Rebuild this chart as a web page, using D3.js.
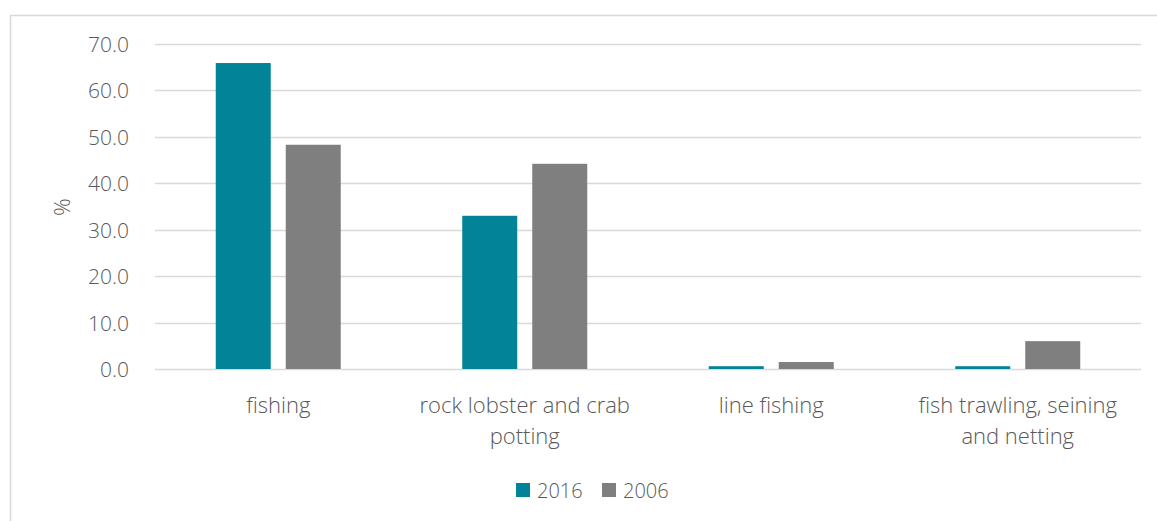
<!DOCTYPE html>
<html><head><meta charset="utf-8">
<script src="https://cdn.jsdelivr.net/npm/d3@7"></script>
<style>
html,body{margin:0;padding:0;background:#fff;}
text{font-family:"Open Sans",sans-serif;fill:#595959;font-weight:300;}
</style></head>
<body>
<svg id="chart" width="1157" height="521"></svg>
<script>
const categories = [["fishing"], ["rock lobster and crab", "potting"], ["line fishing"], ["fish trawling, seining", "and netting"]];
const series = ["2016", "2006"];
const values2016 = [65.9, 33.0, 0.6, 0.6];
const values2006 = [48.3, 44.2, 1.5, 6.0];
const yTicks = [0, 10, 20, 30, 40, 50, 60, 70];
const colors = ["#028398", "#7f7f7f"];

(function(){
const svg = d3.select("#chart");
// outer chart border
svg.append("path").attr("d", "M10.5,521 V15.5 H1157").attr("fill","none").attr("stroke","#d9d9d9").attr("stroke-width",1.5);

const pL = 155, pR = 1141, pT = 44, pB = 369;
const x = d3.scaleBand().domain(d3.range(categories.length)).range([pL, pR]);
const y = d3.scaleLinear().domain([0, 70]).range([pB, pT]);

// gridlines
svg.append("g").selectAll("line").data(yTicks).join("line")
  .attr("x1", pL).attr("x2", pR)
  .attr("y1", d => Math.round(y(d)) + 0.5).attr("y2", d => Math.round(y(d)) + 0.5)
  .attr("stroke", "#d9d9d9").attr("stroke-width", 1.5);

// y axis labels
const yAxis = d3.axisLeft(y).tickValues(yTicks).tickFormat(d3.format(".1f")).tickSize(0).tickPadding(0);
const ya = svg.append("g").attr("transform", `translate(${pL - 26},0)`).call(yAxis);
ya.select(".domain").remove();
ya.selectAll("text").attr("font-size", 21).attr("font-family", "\"Open Sans\",sans-serif").attr("font-weight", 300).attr("fill", "#595959").attr("dy", "0.36em");

// y title
svg.append("text").attr("transform", "translate(70,207) rotate(-90)").attr("text-anchor","middle")
  .attr("font-size", 22).text("%");

// bars
const barW = 55, gap = 15;
const data = [values2016, values2006];
data.forEach((vals, si) => {
  svg.append("g").selectAll("rect").data(vals).join("rect")
    .attr("x", (d, i) => x(i) + x.bandwidth()/2 - (barW*2+gap)/2 + si*(barW+gap))
    .attr("width", barW)
    .attr("y", d => y(d))
    .attr("height", d => pB - y(d))
    .attr("fill", colors[si]);
});

// category labels
const cat = svg.append("g").selectAll("text").data(categories).join("text")
  .attr("text-anchor", "middle").attr("font-size", 22)
  .attr("x", (d, i) => x(i) + x.bandwidth()/2)
  .attr("y", 413);
cat.selectAll("tspan").data(d => d).join("tspan")
  .attr("x", function(){ return d3.select(this.parentNode).attr("x"); })
  .attr("dy", (d, i) => i === 0 ? 0 : 31)
  .text(d => d);

// legend
const legX = [516, 602];
series.forEach((s, i) => {
  svg.append("rect").attr("x", legX[i]).attr("y", 483).attr("width", 14).attr("height", 14).attr("fill", colors[i]);
  svg.append("text").attr("x", legX[i] + 21).attr("y", 498).attr("font-size", 20).text(s);
});
})();
</script>
</body></html>
